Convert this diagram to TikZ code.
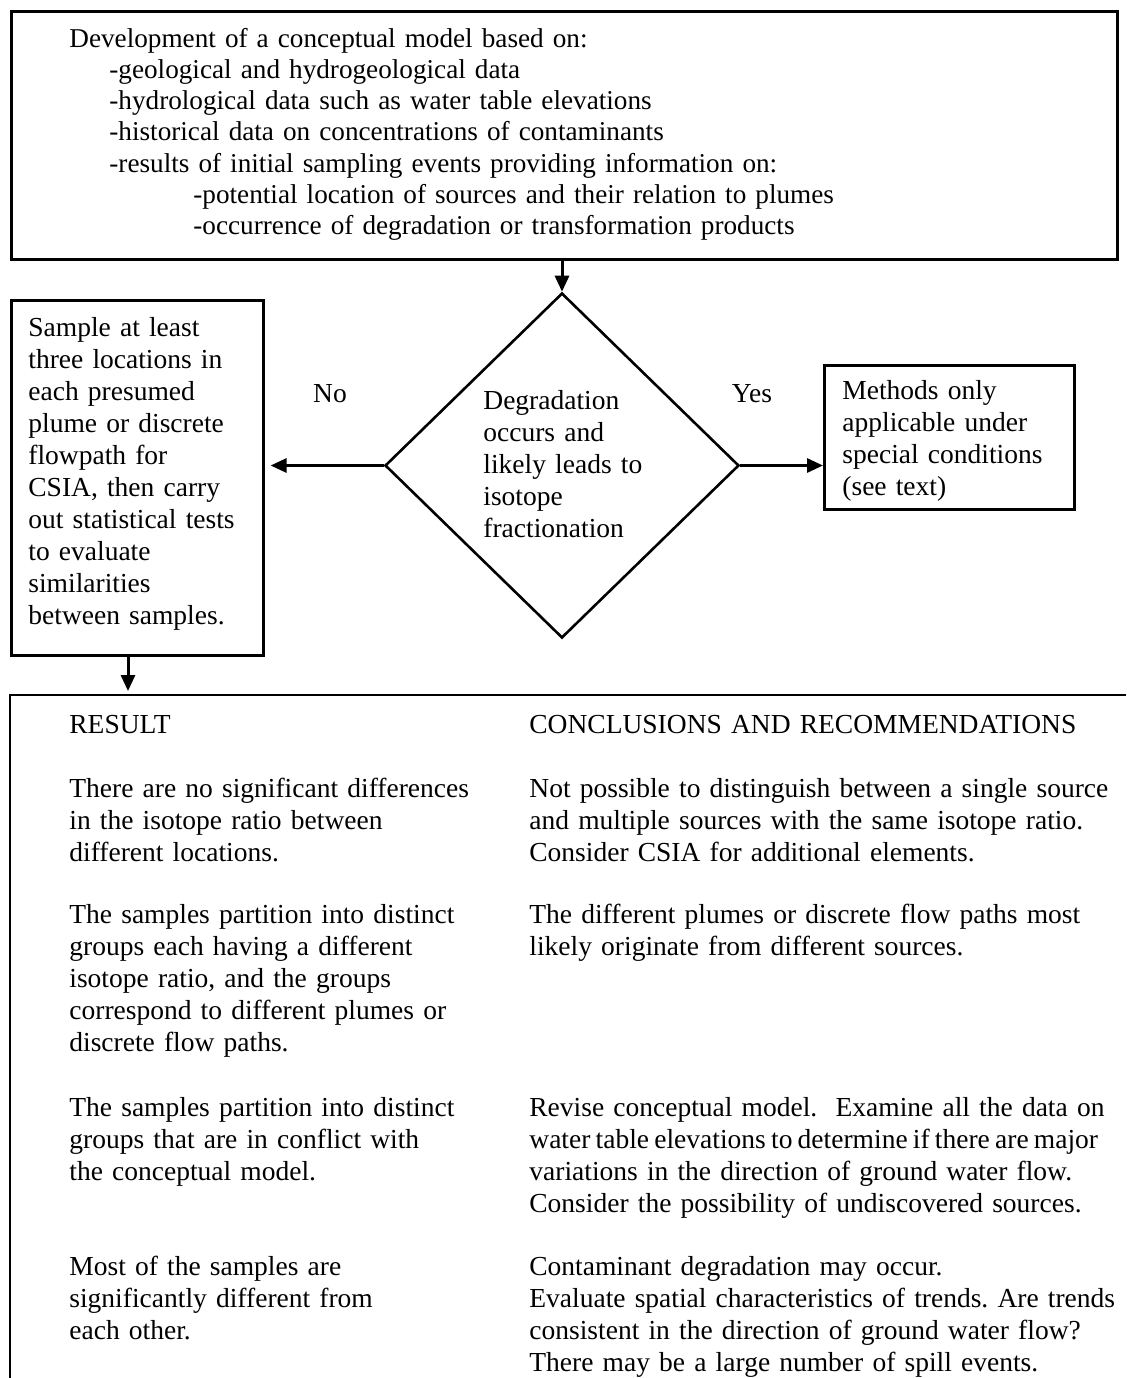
\documentclass[tikz,border=0pt]{standalone}
\usepackage{fontspec}
\setmainfont{Liberation Serif}
\usetikzlibrary{shapes.geometric,arrows.meta}
\frenchspacing

\tikzset{
  box/.style={draw, line width=1.3pt, inner sep=0pt, anchor=north west},
  txt/.style={anchor=base west, inner sep=0pt, text width=#1, align=left},
  flow/.style={-{Triangle[length=8pt,width=7pt]}, line width=1.5pt},
}

\begin{document}
\begin{tikzpicture}[x=0.5pt, y=-0.5pt, font=\fontsize{13.75}{16}\selectfont]
  \useasboundingbox (0,0) rectangle (1126,1378);
  % conceptual model
  \node[box, minimum width=553pt, minimum height=124pt] (model) at (10,10) {};
  \node[txt=520pt, font=\fontsize{13.6}{15.65}\selectfont] (modeltxt) at (69,47)
    {Development of a conceptual model based on:\\
     \hspace*{20pt}-geological and hydrogeological data\\
     \hspace*{20pt}-hydrological data such as water table elevations\\
     \hspace*{20pt}-historical data on concentrations of contaminants\\
     \hspace*{20pt}-results of initial sampling events providing information on:\\
     \hspace*{62pt}-potential location of sources and their relation to plumes\\
     \hspace*{62pt}-occurrence of degradation or transformation products};

  % decision
  \node[draw, diamond, line width=1.3pt, inner sep=0pt,
        minimum width=177pt, minimum height=172.5pt] (deg) at (562,465.5) {};
  \node[txt=100pt] (degtxt) at (483,409)
    {Degradation\\occurs and\\likely leads to\\isotope\\fractionation};

  \node[box, minimum width=126pt, minimum height=177.5pt] (sample) at (10,299) {};
  \node[txt=120pt] (sampletxt) at (28,336)
    {Sample at least\\three locations in\\each presumed\\plume or discrete\\flowpath for\\CSIA, then carry\\out statistical tests\\to evaluate\\similarities\\between samples.};

  \node[box, minimum width=125pt, minimum height=72pt] (meth) at (823,364) {};
  \node[txt=120pt] (methtxt) at (842,399)
    {Methods only\\applicable under\\special conditions\\(see text)};

  \node[anchor=base, inner sep=0pt] (no) at (330,402) {No};
  \node[anchor=base, inner sep=0pt] (yes) at (752,402) {Yes};

  \draw[flow] (deg.north |- model.south) -- (deg.north);
  \draw[flow, shorten >=3pt] (deg.west) -- (deg.west -| sample.east);
  \draw[flow] (deg.east) -- (deg.east -| meth.west);

  % results frame
  \coordinate (frametop) at (128,691);
  \coordinate (frameNW) at (10,695);
  \draw[flow] (frametop |- sample.south) -- (frametop);
  \draw[line width=1.3pt] (1126,695) -- (frameNW) -- (10,1378);

  \node[txt=220pt] (reshead) at (69,733) {RESULT};
  \node[txt=340pt] (conhead) at (529,733) {CONCLUSIONS AND RECOMMENDATIONS};

  \node[txt=220pt] (res1) at (69,797)
    {There are no significant differences\\in the isotope ratio between\\different locations.};
  \node[txt=340pt] (con1) at (529,797)
    {Not possible to distinguish between a single source\\and multiple sources with the same isotope ratio.\\Consider CSIA for additional elements.};

  \node[txt=220pt] (res2) at (69,923)
    {The samples partition into distinct\\groups each having a different\\isotope ratio, and the groups\\correspond to different plumes or\\discrete flow paths.};
  \node[txt=340pt] (con2) at (529,923)
    {The different plumes or discrete flow paths most\\likely originate from different sources.};

  \node[txt=220pt] (res3) at (69,1116)
    {The samples partition into distinct\\groups that are in conflict with\\the conceptual model.};
  \node[txt=340pt] (con3) at (529,1116)
    {Revise conceptual model.\ \ Examine all the data on\\{\spaceskip=0.19em\relax water table elevations to determine if there are major}\\variations in the direction of ground water flow.\\Consider the possibility of undiscovered sources.};

  \node[txt=220pt] (res4) at (69,1275)
    {Most of the samples are\\significantly different from\\each other.};
  \node[txt=340pt] (con4) at (529,1275)
    {Contaminant degradation may occur.\\Evaluate spatial characteristics of trends. Are trends\\consistent in the direction of ground water flow?\\There may be a large number of spill events.};
\end{tikzpicture}
\end{document}
